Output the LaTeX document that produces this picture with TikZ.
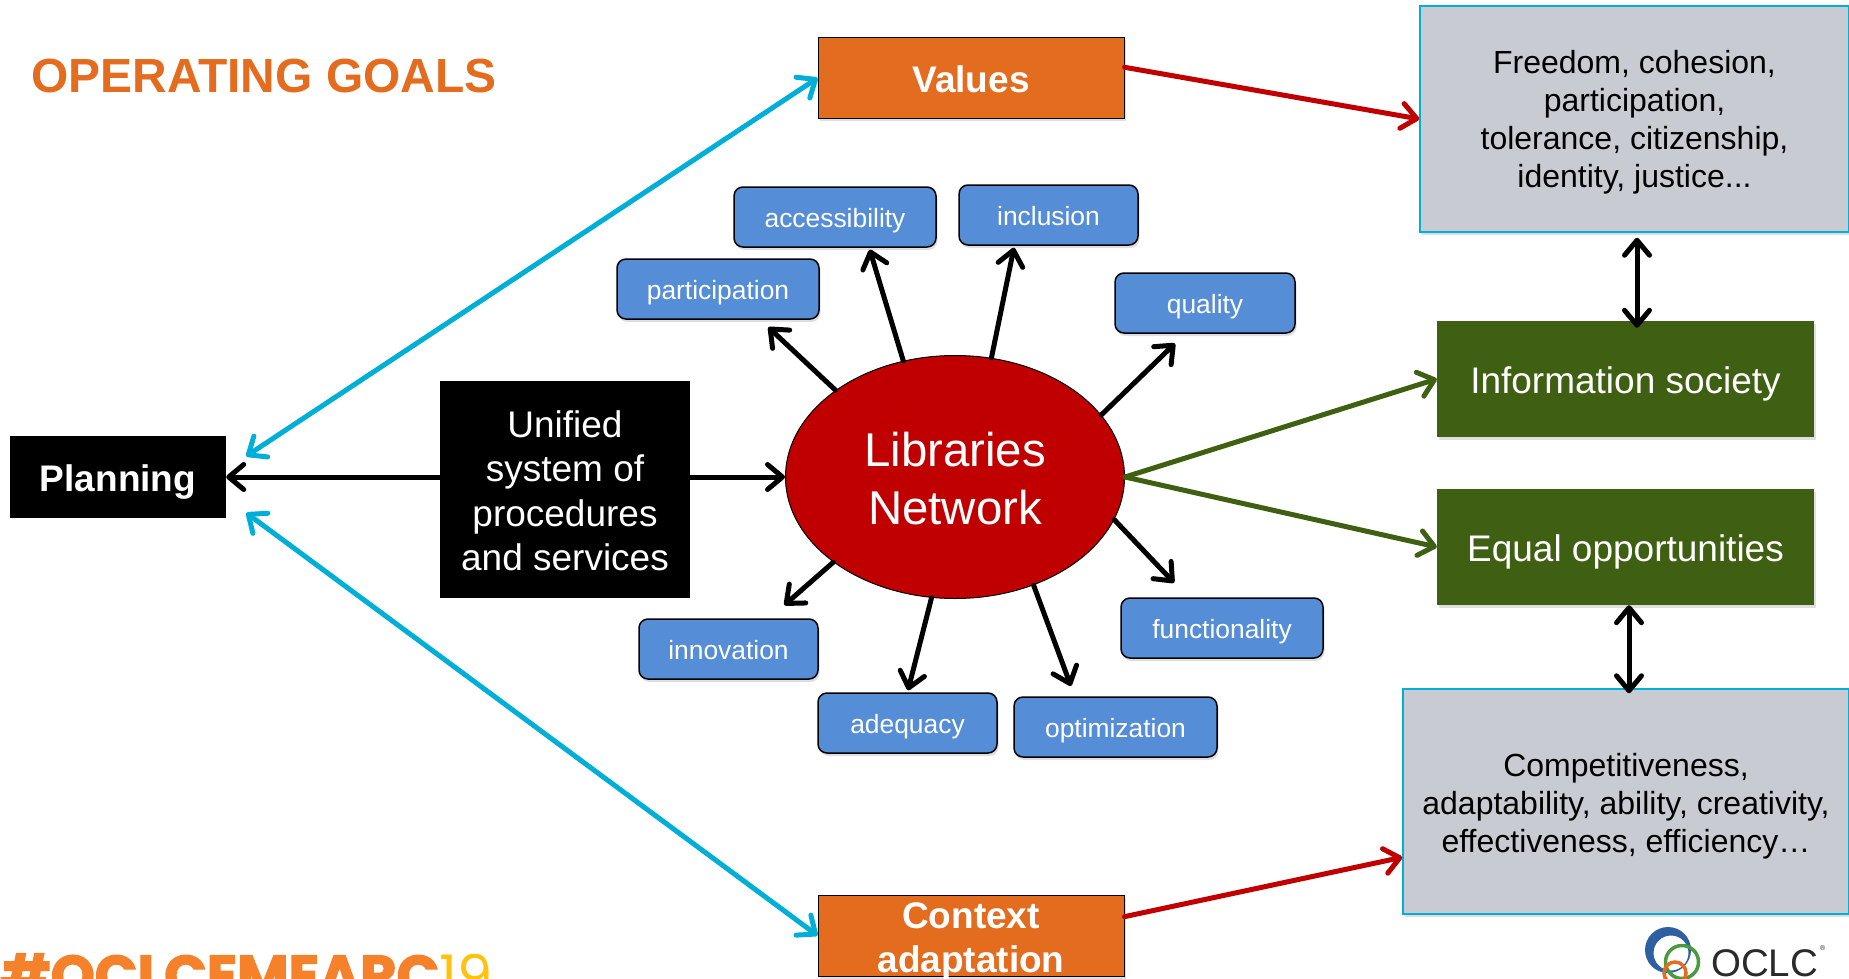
\documentclass[tikz,border=0pt]{standalone}
\usepackage{fontspec}
\setmainfont{Liberation Sans}
\newfontfamily\tagfont{Poppins}[BoldFeatures={FakeBold=2.5}]
\usepackage{tikz}
\usetikzlibrary{arrows.meta,shapes.geometric,shadows}
\definecolor{boxorange}{HTML}{E46C1F}
\definecolor{boxgreen}{HTML}{3F5F12}
\definecolor{boxblue}{HTML}{558DD6}
\definecolor{boxgrey}{HTML}{C8CCD2}
\definecolor{linecyan}{HTML}{00AFD7}
\definecolor{linered}{HTML}{C00000}
\definecolor{tagorange}{HTML}{F5822A}
\definecolor{tagyellow}{HTML}{FFC20E}
\definecolor{logoblue}{HTML}{2F5FA3}
\definecolor{logogreen}{HTML}{4C9A3F}
\definecolor{logodark}{HTML}{2A2A28}

\begin{document}
\begin{tikzpicture}
[x=1pt,y=-1pt,>={Straight Barb[length=15pt,width=25pt,round]},
softshadow/.style={drop shadow={shadow xshift=1.5pt,shadow yshift=-3pt,opacity=.25}},
orangebox/.style={draw=black,line width=1pt,fill=boxorange,text=white,inner sep=0pt,align=center,minimum width=306pt,minimum height=81pt,text depth=0pt,font=\fontsize{37}{44}\selectfont\bfseries,softshadow},
blackbox/.style={fill=black,text=white,inner sep=0pt,align=center,text depth=0pt},
greenbox/.style={fill=boxgreen,text=white,inner sep=0pt,minimum width=377pt,minimum height=116pt,text height=28pt,text depth=0pt,font=\fontsize{37}{44}\selectfont,softshadow},
greybox/.style={draw=linecyan,line width=1.5pt,fill=boxgrey,inner sep=0pt,align=center,text depth=0pt,font=\fontsize{32}{38}\selectfont,softshadow},
bubble/.style={draw=black,line width=1.5pt,fill=boxblue,text=white,rounded corners=9pt,inner sep=0pt,minimum height=60pt,text height=21pt,text depth=0pt,font=\fontsize{26.4}{30}\selectfont,softshadow},
spoke/.style={->,black,line width=5pt,line cap=round},
cyanline/.style={<->,linecyan,line width=5pt,line cap=round},
redline/.style={->,linered,line width=5pt,line cap=round},
greenline/.style={->,boxgreen,line width=5pt,line cap=round}]
\clip (0,0) rectangle (1849,979);
\fill[white] (0,0) rectangle (1849,979);

\node[anchor=base west,text=boxorange,font=\fontsize{47.9}{50}\selectfont\bfseries] (title) at (28,93) {OPERATING GOALS};
\node[anchor=base west,inner sep=0pt,font=\fontsize{56}{56}\selectfont] (tag) at (0,995) {\tagfont\bfseries\textcolor{tagorange}{\#OCLCEMEARC}\textcolor{tagyellow}{\mdseries 19}};

\node[blackbox,minimum width=216pt,minimum height=82pt,text height=28pt,font=\fontsize{37}{44}\selectfont\bfseries] (planning) at (118,477) {Planning};
\node[blackbox,minimum width=250pt,minimum height=217pt,text height=162pt,font=\fontsize{37}{44.5}\selectfont] (unified) at (565,489.5) {Unified\\system of\\procedures\\and services};
\node[ellipse,draw=black,line width=1pt,fill=linered,text=white,inner sep=0pt,minimum width=339pt,minimum height=243pt,align=center,text height=94pt,text depth=0pt,font=\fontsize{47.4}{58}\selectfont] (network) at (955,477) {Libraries\\Network};

\node[orangebox,text height=29pt] (values) at (971,78) {Values};
\node[orangebox,text height=73pt] (context) at (971,935.5) {Context\\adaptation};
\node[greybox,minimum width=429pt,minimum height=226pt,text height=136pt] (freedom) at (1634.5,119) {Freedom, cohesion,\\participation,\\tolerance, citizenship,\\identity, justice...};
\node[greybox,minimum width=446pt,minimum height=225pt,text height=101pt] (compet) at (1626,801.5) {Competitiveness,\\adaptability, ability, creativity,\\effectiveness, efficiency…};
\node[greenbox] (infosoc) at (1625.5,379) {Information society};
\node[greenbox] (equal) at (1625.5,547) {Equal opportunities};

\node[bubble,minimum width=202pt] (participation) at (718,289) {participation};
\node[bubble,minimum width=202pt] (accessibility) at (835,217) {accessibility};
\node[bubble,minimum width=179pt] (inclusion) at (1048.5,215) {inclusion};
\node[bubble,minimum width=180pt] (quality) at (1205,303) {quality};
\node[bubble,minimum width=202pt] (functionality) at (1222,628) {functionality};
\node[bubble,minimum width=203pt] (optimization) at (1115.5,727) {optimization};
\node[bubble,minimum width=179pt] (adequacy) at (907.5,723) {adequacy};
\node[bubble,minimum width=179pt] (innovation) at (728.5,649) {innovation};

\foreach \ang/\to/\aim/\gap in {144/participation/-36.9/11,114/accessibility/-42/2,73/inclusion/222/2,
23.4/quality/237.6/14,-15/functionality/138.6/20,-54.4/optimization/143/11,-101/adequacy/90/2,215/innovation/37/20}
\draw[spoke,shorten >=\gap pt] (network.\ang) -- (\to.\aim);

\draw[spoke] (unified.west |- planning.east) -- (planning.east);
\draw[spoke] (unified.east |- network.west) -- (network.west);
\draw[cyanline,shorten <=24pt] (planning.4.8) -- (values.west);
\draw[cyanline,shorten <=25pt] (planning.-11) -- (context.west);
\draw[redline] (values.4) -- (freedom.west);
\draw[redline] (context.7.8) -- (compet.194.8);
\draw[greenline] (network.east) -- (infosoc.west);
\draw[greenline] (network.east) -- (equal.west);
\draw[spoke,<->,shorten <=5pt,shorten >=-7pt] ([xshift=2.5pt]freedom.south) -- ([xshift=11.5pt]infosoc.north);
\draw[spoke,<->,shorten >=-5pt] ([xshift=3.5pt]equal.south) -- ([xshift=3pt]compet.north);

% logo
\fill[logoblue,even odd rule] (1668,950) circle (23) (1671,953) circle (17.5);
\draw[logogreen,line width=3.5pt] (1682,962) circle (16.5);
\draw[boxorange,line width=3.5pt] (1675,973) circle (11);
\node[anchor=base west,inner sep=0pt,text=logodark,font=\fontsize{38.5}{40}\selectfont] (oclc) at (1711,976) {OCLC};
\node[anchor=base west,inner sep=0pt,text=logodark,font=\fontsize{7}{8}\selectfont] (reg) at (1820,950) {®};
\end{tikzpicture}
\end{document}
